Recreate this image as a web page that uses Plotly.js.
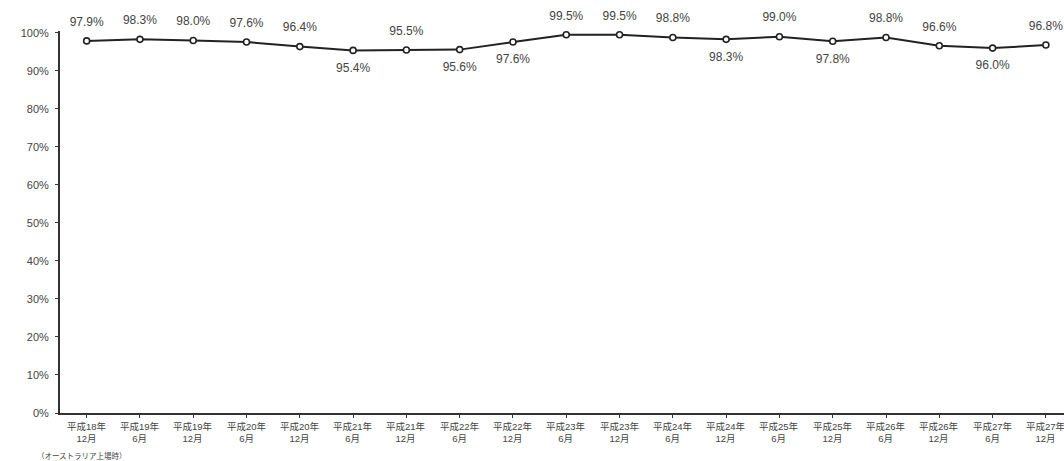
<!DOCTYPE html>
<html><head><meta charset="utf-8">
<script src="https://cdn.plot.ly/plotly-3.0.1.min.js"></script>
<style>html,body{margin:0;padding:0;background:#fff}#c{width:1064px;height:461px}</style>
</head><body><div id="c"></div>
<script>
const categories = ["平成18年<br>12月","平成19年<br>6月","平成19年<br>12月","平成20年<br>6月","平成20年<br>12月","平成21年<br>6月","平成21年<br>12月","平成22年<br>6月","平成22年<br>12月","平成23年<br>6月","平成23年<br>12月","平成24年<br>6月","平成24年<br>12月","平成25年<br>6月","平成25年<br>12月","平成26年<br>6月","平成26年<br>12月","平成27年<br>6月","平成27年<br>12月"];
const values = [97.9,98.3,98.0,97.6,96.4,95.4,95.5,95.6,97.6,99.5,99.5,98.8,98.3,99.0,97.8,98.8,96.6,96.0,96.8];
const labelSide = ["top","top","top","top","top","bottom","top","bottom","bottom","top","top","top","bottom","top","bottom","top","top","bottom","top"];
const yTicks = [0,10,20,30,40,50,60,70,80,90,100];
const footnote = "（オーストラリア上場時）";

const idx = categories.map((_, i) => i);
const plotH = 461 - 31 - 48;
const lineTrace = {
  x: idx, y: values, type: 'scatter', mode: 'lines+markers',
  line: {color: '#222', width: 2},
  marker: {symbol: 'circle', size: 6, color: '#fff', line: {color: '#222', width: 1.6}},
  cliponaxis: false, hoverinfo: 'none'
};
const labelTrace = {
  x: idx, y: values, type: 'scatter', mode: 'markers+text',
  marker: {size: 18, color: 'rgba(0,0,0,0)'},
  text: values.map(v => v.toFixed(1) + '%'),
  textposition: labelSide.map(s => s + ' center'),
  textfont: {family: 'Liberation Sans, Arial, sans-serif', size: 12, color: '#444'},
  cliponaxis: false, hoverinfo: 'none'
};
const catAnn = categories.map((c, i) => ({
  text: c, xref: 'x', yref: 'paper', x: i, y: -(419 - 413) / plotH,
  xanchor: 'center', yanchor: 'top', showarrow: false, align: 'center',
  font: {family: 'Liberation Sans, "Noto Sans CJK JP", sans-serif', size: 9.5, color: '#444'}
}));
const layout = {
  width: 1064, height: 461,
  margin: {l: 60, r: 0, t: 31, b: 48},
  paper_bgcolor: '#fff', plot_bgcolor: '#fff',
  showlegend: false,
  font: {family: 'Liberation Sans, "Noto Sans CJK JP", sans-serif', color: '#444'},
  xaxis: {
    range: [-0.5, 18.34], tickmode: 'array', tickvals: idx, showticklabels: false,
    showgrid: false, zeroline: false, showline: true, linecolor: '#333', linewidth: 2,
    ticks: 'outside', ticklen: 3, tickcolor: '#333', tickson: 'boundaries', fixedrange: true
  },
  yaxis: {
    range: [0, 100.5], tickmode: 'array', tickvals: yTicks, ticktext: yTicks.map(v => v + '%'),
    showgrid: false, zeroline: false, showline: true, linecolor: '#333', linewidth: 2,
    ticks: 'outside', ticklen: 3, tickcolor: '#333',
    tickfont: {family: 'Liberation Sans, Arial, sans-serif', size: 11, color: '#444'},
    ticklabelstandoff: 4, fixedrange: true
  },
  annotations: catAnn.concat([{
    text: footnote, xref: 'paper', yref: 'paper', x: (35 - 60) / 1004, y: -(455 - 413) / plotH,
    xanchor: 'left', yanchor: 'middle', showarrow: false,
    font: {family: '"Noto Sans CJK JP", sans-serif', size: 7.5, color: '#444'}
  }])
};
Plotly.newPlot('c', [lineTrace, labelTrace], layout, {displayModeBar: false, staticPlot: true});
</script></body></html>
